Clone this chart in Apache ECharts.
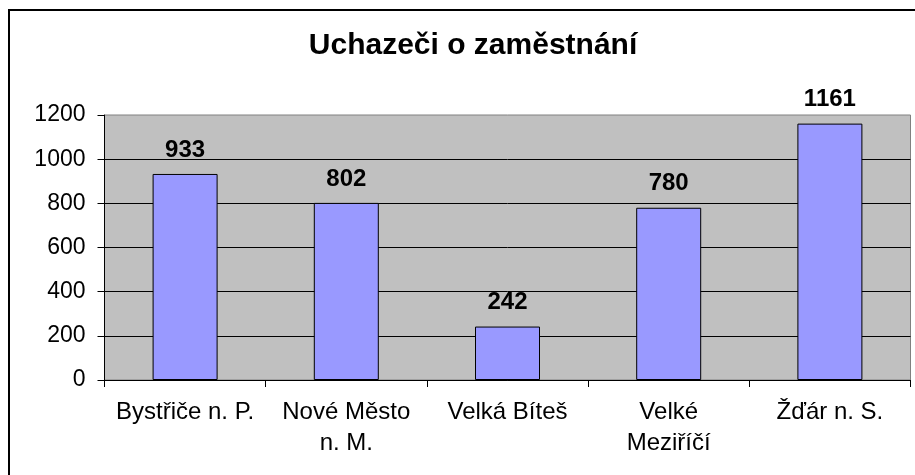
<!DOCTYPE html>
<html>
<head>
<meta charset="utf-8">
<script src="https://cdn.jsdelivr.net/npm/echarts@6/dist/echarts.min.js"></script>
<style>
  html, body { margin: 0; padding: 0; background: #fff; }
  #chart { width: 915px; height: 475px; }
</style>
</head>
<body>
<div id="chart"></div>
<script>
var titleText = 'Uchazeči o zaměstnání';
var categories = ['Bystřiče n. P.', 'Nové Město\nn. M.', 'Velká Bíteš', 'Velké\nMeziříčí', 'Žďár n. S.'];
var values = [933, 802, 242, 780, 1161];
var yTicks = [0, 200, 400, 600, 800, 1000, 1200];

var font = '"Liberation Sans", Arial, sans-serif';
var chart = echarts.init(document.getElementById('chart'));

var option = {
    animation: false,
    backgroundColor: '#fff',
    textStyle: { fontFamily: font },
    title: {
        text: titleText,
        left: 468,
        textAlign: 'center',
        top: 26,
        textStyle: {
            fontFamily: font,
            fontSize: 30,
            fontWeight: 'bold',
            color: '#000'
        }
    },
    graphic: [
        {
            // chart frame, only left and top edges visible
            type: 'rect',
            shape: { x: 9, y: 10, width: 2000, height: 2000 },
            style: { fill: 'none', stroke: '#000', lineWidth: 2 },
            silent: true
        }
    ],
    grid: {
        left: 104.5,
        right: 4.5,
        top: 115,
        bottom: 95,
        show: true,
        backgroundColor: '#C0C0C0',
        borderColor: '#808080',
        borderWidth: 1
    },
    xAxis: {
        type: 'category',
        data: categories,
        axisLine: { lineStyle: { color: '#000', width: 1 } },
        axisTick: { show: true, length: 7, lineStyle: { color: '#000' } },
        axisLabel: {
            color: '#000',
            fontFamily: font,
            fontSize: 24,
            lineHeight: 31,
            margin: 17,
            interval: 0
        }
    },
    yAxis: {
        type: 'value',
        min: yTicks[0],
        max: yTicks[yTicks.length - 1],
        interval: 200,
        axisLine: { show: true, lineStyle: { color: '#000', width: 1 } },
        axisTick: { show: true, length: 7, lineStyle: { color: '#000' } },
        axisLabel: {
            color: '#000',
            fontFamily: font,
            fontSize: 23,
            margin: 19,
            formatter: function (v) { return String(v); }
        },
        splitLine: {
            show: true,
            showMaxLine: false,
            lineStyle: { color: '#000', width: 1 }
        }
    },
    series: [
        {
            type: 'bar',
            data: values,
            barWidth: 65,
            itemStyle: {
                color: '#9999FF',
                borderColor: '#000',
                borderWidth: 1
            },
            label: {
                show: true,
                position: 'top',
                distance: 12,
                color: '#000',
                fontFamily: font,
                fontSize: 24,
                fontWeight: 'bold'
            }
        }
    ]
};

chart.setOption(option);
</script>
</body>
</html>
